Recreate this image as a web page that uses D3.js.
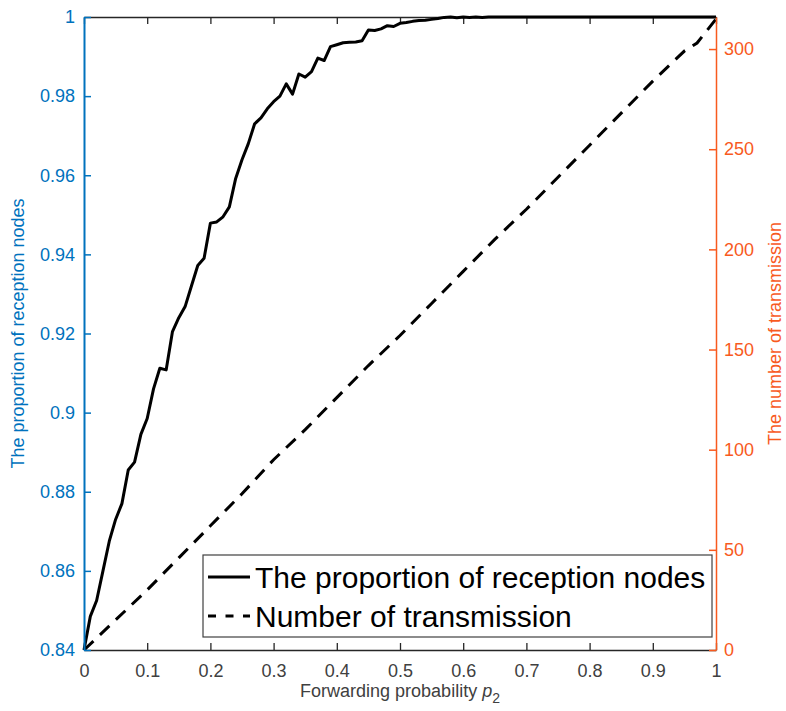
<!DOCTYPE html>
<html>
<head>
<meta charset="utf-8">
<title>Reception proportion and transmissions</title>
<script src="https://d3js.org/d3.v7.min.js"></script>
<style>
  body { margin: 0; background: #fff; }
  text { font-family: "Liberation Sans", Arial, Helvetica, sans-serif; }
</style>
</head>
<body>
<svg id="chart" width="786" height="711"></svg>
<script>
// forwarding probability p2, step 0.01
var probs = d3.range(0, 101).map(function(i) { return i / 100; });

// proportion of reception nodes (left axis)
var proportion = [
  0.8400, 0.8485, 0.8525, 0.8600, 0.8675, 0.8730, 0.8770, 0.8855, 0.8875, 0.8945,
  0.8985, 0.9060, 0.9112, 0.9108, 0.9205, 0.9240, 0.9268, 0.9320, 0.9372, 0.9390,
  0.9479, 0.9482, 0.9495, 0.9520, 0.9592, 0.9639, 0.9680, 0.9730, 0.9745, 0.9768,
  0.9786, 0.9800, 0.9831, 0.9805, 0.9856, 0.9848, 0.9862, 0.9896, 0.9890, 0.9925,
  0.9930, 0.9935, 0.9936, 0.9937, 0.9940, 0.9967, 0.9966, 0.9970, 0.9978, 0.9976,
  0.9984, 0.9986, 0.9989, 0.9991, 0.9992, 0.9994, 0.9996, 0.9999, 1.0000, 0.9998,
  1.0000, 0.9999, 1.0000, 0.9999, 1.0000, 1.0000, 1.0000, 1.0000, 1.0000, 1.0000,
  1.0000, 1.0000, 1.0000, 1.0000, 1.0000, 1.0000, 1.0000, 1.0000, 1.0000, 1.0000,
  1.0000, 1.0000, 1.0000, 1.0000, 1.0000, 1.0000, 1.0000, 1.0000, 1.0000, 1.0000,
  1.0000, 1.0000, 1.0000, 1.0000, 1.0000, 1.0000, 1.0000, 1.0000, 1.0000, 1.0000,
  1.0000
];

// number of transmission (right axis)
var transProbs = [0, 0.05, 0.1, 0.15, 0.2, 0.25, 0.3, 0.35, 0.4, 0.45, 0.5,
                  0.55, 0.6, 0.65, 0.7, 0.75, 0.8, 0.85, 0.9, 0.95, 0.97, 1.0];
var transmissions = [0, 15, 30, 46, 62, 78, 95, 110, 126, 142, 157,
                     173, 189, 205, 220, 236, 252, 268, 284, 299, 303, 315];

var xTicks = [0, 0.1, 0.2, 0.3, 0.4, 0.5, 0.6, 0.7, 0.8, 0.9, 1];
var leftTicks = [0.84, 0.86, 0.88, 0.9, 0.92, 0.94, 0.96, 0.98, 1];
var rightTicks = [0, 50, 100, 150, 200, 250, 300];

var legendLabels = ["The proportion of reception nodes", "Number of transmission"];

var blue = "#0072BD", orange = "#F85A1E", axisCol = "#262626";

var svg = d3.select("#chart"),
    margin = {top: 17, right: 70, bottom: 61, left: 84},
    width = 786 - margin.left - margin.right,
    height = 711 - margin.top - margin.bottom;

var x = d3.scaleLinear().domain([0, 1]).range([0, width]);
var yL = d3.scaleLinear().domain([0.84, 1]).range([height, 0]);
var yR = d3.scaleLinear().domain([0, 316]).range([height, 0]);

var g = svg.append("g").attr("transform", "translate(" + margin.left + "," + margin.top + ")");

var fmt = function(d) { return String(+d.toFixed(2)); };

// top box line with inward ticks
var topAxis = g.append("g")
  .call(d3.axisBottom(x).tickValues(xTicks).tickSizeInner(7).tickSizeOuter(0).tickFormat(""));
topAxis.select(".domain").attr("stroke", axisCol).attr("stroke-width", 1.3);
topAxis.selectAll(".tick line").attr("stroke", axisCol).attr("stroke-width", 1.3);

// bottom axis, ticks pointing inward
var bottomAxis = g.append("g")
  .attr("transform", "translate(0," + height + ")")
  .call(d3.axisBottom(x).tickValues(xTicks).tickSizeInner(-7).tickSizeOuter(0).tickPadding(14).tickFormat(fmt));
bottomAxis.select(".domain").attr("stroke", axisCol).attr("stroke-width", 1.3);
bottomAxis.selectAll(".tick line").attr("stroke", axisCol).attr("stroke-width", 1.3);
bottomAxis.selectAll(".tick text").attr("fill", "#404040").style("font-size", "18px");

// lines
var solid = d3.line().x(function(d, i) { return x(probs[i]); }).y(function(d) { return yL(d); });
var dashed = d3.line().x(function(d, i) { return x(transProbs[i]); }).y(function(d) { return yR(d); });

g.append("path").datum(proportion)
  .attr("d", solid).attr("fill", "none").attr("stroke", "#000")
  .attr("stroke-width", 3).attr("stroke-linejoin", "round");

g.append("path").datum(transmissions)
  .attr("d", dashed).attr("fill", "none").attr("stroke", "#000")
  .attr("stroke-width", 3).attr("stroke-dasharray", "13,9");

// left axis
var leftAxis = g.append("g")
  .call(d3.axisLeft(yL).tickValues(leftTicks).tickSizeInner(-7).tickSizeOuter(0).tickPadding(9).tickFormat(fmt));
leftAxis.select(".domain").attr("stroke", blue).attr("stroke-width", 2);
leftAxis.selectAll(".tick line").attr("stroke", blue).attr("stroke-width", 1.5);
leftAxis.selectAll(".tick text").attr("fill", blue).style("font-size", "18px");

// right axis
var rightAxis = g.append("g")
  .attr("transform", "translate(" + width + ",0)")
  .call(d3.axisRight(yR).tickValues(rightTicks).tickSizeInner(-7).tickSizeOuter(0).tickPadding(8));
rightAxis.select(".domain").attr("stroke", orange).attr("stroke-width", 1.5);
rightAxis.selectAll(".tick line").attr("stroke", orange).attr("stroke-width", 1.5);
rightAxis.selectAll(".tick text").attr("fill", orange).style("font-size", "18px");

// axis titles
svg.append("text")
  .attr("transform", "translate(24," + (margin.top + height / 2) + ") rotate(-90)")
  .attr("text-anchor", "middle").attr("fill", blue).style("font-size", "18px")
  .text("The proportion of reception nodes");

svg.append("text")
  .attr("transform", "translate(781," + (margin.top + height / 2) + ") rotate(-90)")
  .attr("text-anchor", "middle").attr("fill", orange).style("font-size", "18px")
  .text("The number of transmission");

var xl = svg.append("text")
  .attr("x", margin.left + width / 2).attr("y", 697)
  .attr("text-anchor", "middle").attr("fill", "#404040").style("font-size", "18px");
xl.append("tspan").text("Forwarding probability ");
xl.append("tspan").style("font-style", "italic").text("p");
xl.append("tspan").attr("dy", 6).style("font-size", "14px").text("2");

// legend
var lg = g.append("g").attr("transform", "translate(" + x(0.1883) + ",538)");
lg.append("rect").attr("width", 509).attr("height", 82)
  .attr("fill", "#fff").attr("stroke", "#404040").attr("stroke-width", 1.2);
var styles = [null, "8,9.5"];
legendLabels.forEach(function(lbl, i) {
  var yy = 22 + i * 39;
  lg.append("line").attr("x1", 5).attr("x2", 47).attr("y1", yy).attr("y2", yy)
    .attr("stroke", "#000").attr("stroke-width", 3)
    .attr("stroke-dasharray", styles[i]);
  lg.append("text").attr("x", 52).attr("y", yy).attr("dy", "0.35em")
    .attr("fill", "#000").style("font-size", "30px").text(lbl);
});
</script>
</body>
</html>
